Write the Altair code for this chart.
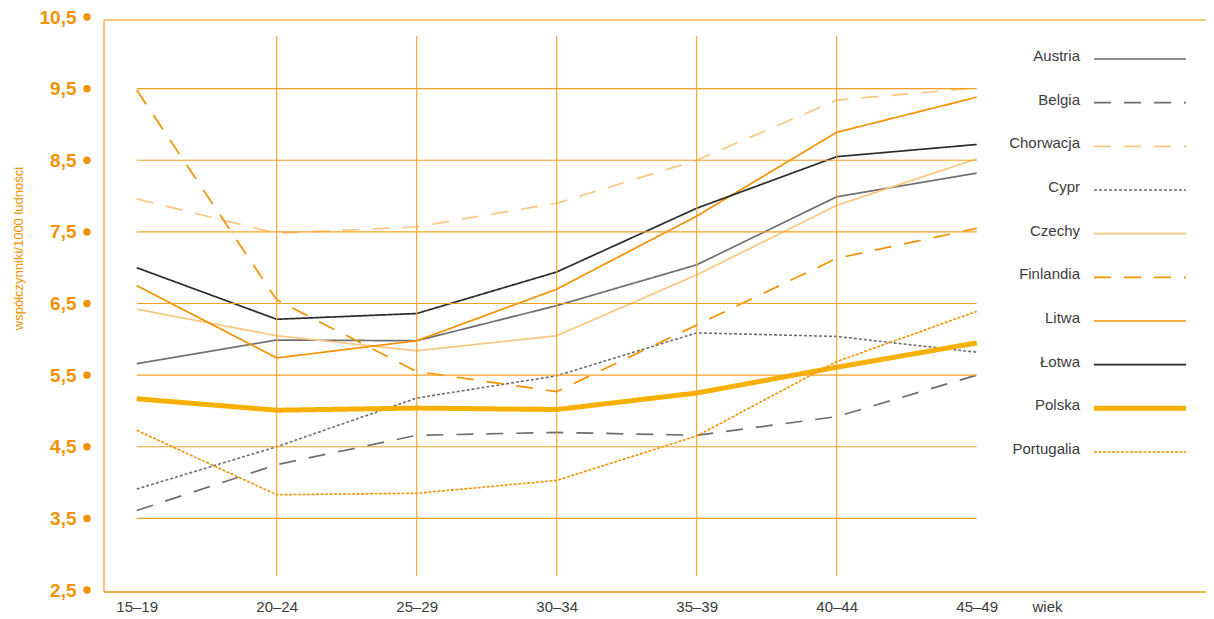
import json
import altair as alt
import pandas as pd

# ---------------- data ----------------
age_groups = ["15–19", "20–24", "25–29", "30–34", "35–39", "40–44", "45–49"]
series_names = ["Austria", "Belgia", "Chorwacja", "Cypr", "Czechy",
                "Finlandia", "Litwa", "Łotwa", "Polska", "Portugalia"]

austria = [5.66, 5.99, 5.98, 6.47, 7.04, 7.99, 8.32]
belgia = [3.61, 4.25, 4.66, 4.70, 4.66, 4.92, 5.50]
chorwacja = [7.96, 7.48, 7.57, 7.90, 8.50, 9.34, 9.51]
cypr = [3.91, 4.50, 5.18, 5.49, 6.09, 6.04, 5.82]
czechy = [6.42, 6.05, 5.84, 6.05, 6.90, 7.87, 8.52]
finlandia = [9.48, 6.55, 5.55, 5.27, 6.20, 7.13, 7.55]
litwa = [6.75, 5.74, 5.98, 6.70, 7.72, 8.89, 9.38]
lotwa = [7.00, 6.28, 6.36, 6.94, 7.83, 8.55, 8.72]
polska = [5.17, 5.01, 5.04, 5.02, 5.25, 5.61, 5.95]
portugalia = [4.73, 3.83, 3.85, 4.03, 4.65, 5.69, 6.39]

y_ticks = [2.5, 3.5, 4.5, 5.5, 6.5, 7.5, 8.5, 9.5, 10.5]
h_grid = [3.5, 4.5, 5.5, 6.5, 7.5, 8.5, 9.5]
v_grid = [1, 2, 3, 4, 5]

# ---------------- styles ----------------
ORANGE = "#f39200"
GRID = "#f4a024"
FRAME = "#f7b050"
FONT = "Liberation Sans"
TEXT = "#3c3c3c"
GREY = "#6e6e6e"
LIGHT = "#fbc67f"

colors = [GREY, GREY, LIGHT, GREY, LIGHT, ORANGE, ORANGE, "#2b2b2b", "#f7b000", ORANGE]
dashes = [[1, 0], [17, 13], [17, 13], [3, 2], [1, 0], [17, 13], [1, 0], [1, 0], [1, 0], [3, 1.5]]
widths = [1.7, 1.7, 1.7, 1.6, 1.7, 1.7, 1.7, 1.7, 5, 1.6]

all_values = [austria, belgia, chorwacja, cypr, czechy, finlandia, litwa, lotwa, polska, portugalia]
rows = []
for name, vals in zip(series_names, all_values):
    for i, v in enumerate(vals):
        rows.append({"series": name, "i": i, "value": v})
df = pd.DataFrame(rows)

W, H = 1102, 573
x_scale = alt.Scale(domain=[-0.2336, 7.638], nice=False, zero=False)
y_scale = alt.Scale(domain=[2.5, 10.5], nice=False, zero=False)
color = alt.Color("series:N", scale=alt.Scale(domain=series_names, range=colors), legend=None)
dash = alt.StrokeDash("series:N", scale=alt.Scale(domain=series_names, range=dashes), legend=None)
swidth = alt.StrokeWidth("series:N", scale=alt.Scale(type="ordinal", domain=series_names, range=widths),
                         legend=None)

label_expr = json.dumps(age_groups, ensure_ascii=False) + "[datum.value]"

x_axis = alt.Axis(values=list(range(len(age_groups))), labelExpr=label_expr,
                  labelFont=FONT, labelFontSize=15, labelColor=TEXT,
                  labelPadding=9, ticks=False, domain=False, grid=False,
                  title="wiek", titleFont=FONT, titleFontSize=15,
                  titleFontWeight="normal", titleColor=TEXT,
                  titleX=943, titleY=9, titleBaseline="top", titleAlign="center")
y_axis = alt.Axis(values=y_ticks,
                  labelExpr="replace(format(datum.value, '.1f'), '.', ',')",
                  labelFont=FONT, labelFontSize=19, labelFontWeight="bold",
                  labelColor=ORANGE, labelPadding=28, labelBaseline="middle",
                  ticks=False, domain=False, grid=False,
                  title="współczynniki/1000 ludności", titleFont=FONT,
                  titleFontSize=13, titleFontWeight="normal", titleColor=ORANGE,
                  titleAngle=-90, titleX=-86, titleY=231,
                  titleAlign="center", titleBaseline="middle")

one = pd.DataFrame({"k": [0]})

frame_left = alt.Chart(one).mark_rule(color=FRAME, strokeWidth=1.5).encode(
    x=alt.value(0), y=alt.value(3), y2=alt.value(575))
frame_top = alt.Chart(one).mark_rule(color=FRAME, strokeWidth=1.5).encode(
    x=alt.value(0), x2=alt.value(W), y=alt.value(3))
frame_bottom = alt.Chart(one).mark_rule(color=ORANGE, strokeWidth=1.5).encode(
    x=alt.value(0), x2=alt.value(W), y=alt.value(575))

hgrid = alt.Chart(pd.DataFrame({"v": h_grid, "a": 0, "b": 6})).mark_rule(
    color=GRID, strokeWidth=1.1).encode(
    y=alt.Y("v:Q", scale=y_scale, axis=y_axis),
    x=alt.X("a:Q", scale=x_scale, axis=x_axis), x2="b:Q")
vgrid = alt.Chart(pd.DataFrame({"i": v_grid})).mark_rule(color=GRID, strokeWidth=1.1).encode(
    x=alt.X("i:Q", scale=x_scale, axis=x_axis),
    y=alt.value(19), y2=alt.value(559))

dots = alt.Chart(pd.DataFrame({"v": y_ticks})).mark_circle(size=55, color=ORANGE, opacity=1).encode(
    x=alt.value(-17), y=alt.Y("v:Q", scale=y_scale, axis=y_axis))

lines = alt.Chart(df).mark_line().encode(
    x=alt.X("i:Q", scale=x_scale, axis=x_axis),
    y=alt.Y("value:Q", scale=y_scale, axis=y_axis),
    color=color, strokeDash=dash, strokeWidth=swidth,
    detail="series:N",
)

# legend rows laid out with a yOffset point scale
leg_df = pd.DataFrame({"series": series_names})
leg_off = alt.YOffset("series:N", scale=alt.Scale(type="point", domain=series_names,
                                                 range=[0, 393], padding=0))
leg_lines = alt.Chart(leg_df).mark_rule().encode(
    x=alt.value(990), x2=alt.value(1082), y=alt.value(42), yOffset=leg_off,
    color=color, strokeDash=dash, strokeWidth=swidth)
leg_text = alt.Chart(leg_df).mark_text(align="right", baseline="middle", dy=-3,
                                      font=FONT, fontSize=15, color=TEXT).encode(
    x=alt.value(976), y=alt.value(42), yOffset=leg_off, text="series:N")

chart = alt.layer(lines, frame_left, frame_top, frame_bottom, hgrid, vgrid, dots,
                  leg_lines, leg_text).properties(
    width=W, height=H,
    autosize=alt.AutoSizeParams(type="none"),
    padding={"left": 96, "top": 9, "right": 0, "bottom": 28},
).configure_view(stroke=None)

chart.save("out.html", embed_options={"renderer": "svg", "actions": False})
